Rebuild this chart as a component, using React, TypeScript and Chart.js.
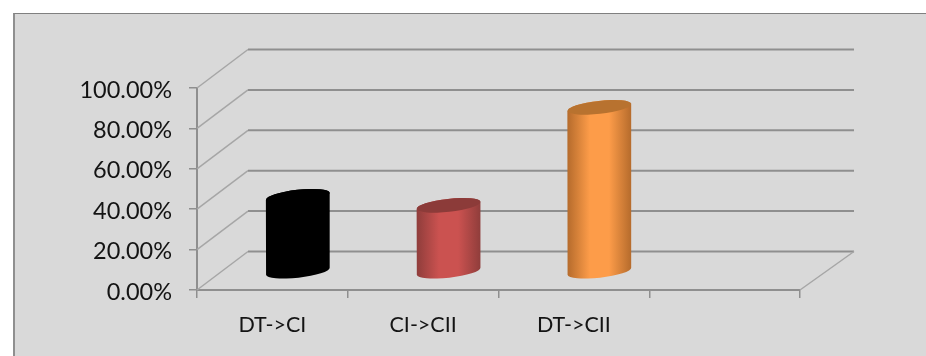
import React, { useEffect, useRef } from "react";
import { Chart, registerables } from "chart.js";

Chart.register(...registerables);

const categories = ["DT->CI", "CI->CII", "DT->CII", ""];
const values = [37.5, 33, 81.5, null];
const yTickStep = 20;
const yMax = 100;

// Per-bar shading: edge tone, centre tone, cap tone.
const edgeColors = ["#000000", "#8f3d3b", "#b56b2c"];
const centerColors = ["#000000", "#cb5250", "#fd9c49"];
const capColors = ["#000000", "#8c3b39", "#b8722f"];

const gridColor = "#8f8f8f";
const sideColor = "#a6a6a6";
const textColor = "#141414";
const fontFamily = "Lato, Carlito, sans-serif";

// Oblique projection of the floor and back wall relative to the front plane.
const wallDxLeft = 51;
const wallDxRight = 54;
const wallDy = -38.5;
const barDx = 25.5;
const barDy = -18;
const capRy = 6.5;
const capTilt = -0.11;

const wallPlugin = {
  id: "wall",
  beforeDatasetsDraw(chart: any) {
    const { ctx, scales } = chart;
    const { x, y } = scales;
    const left = x.left;
    const right = x.right;
    ctx.save();
    y.ticks.forEach((t: any) => {
      const py = y.getPixelForValue(t.value);
      ctx.strokeStyle = sideColor;
      ctx.lineWidth = 1.5;
      ctx.beginPath();
      ctx.moveTo(left, py);
      ctx.lineTo(left + wallDxLeft, py + wallDy);
      ctx.stroke();
      ctx.strokeStyle = gridColor;
      ctx.lineWidth = 2;
      ctx.beginPath();
      ctx.moveTo(left + wallDxLeft, py + wallDy);
      ctx.lineTo(right + wallDxRight, py + wallDy);
      ctx.stroke();
    });
    const floor = y.getPixelForValue(0);
    ctx.strokeStyle = sideColor;
    ctx.lineWidth = 1.5;
    ctx.beginPath();
    ctx.moveTo(right, floor);
    ctx.lineTo(right + wallDxRight, floor + wallDy);
    ctx.stroke();
    ctx.restore();
  },
};

// Replaces the flat bar with a tilted cylinder built from the bar element's own geometry.
const cylinderPlugin = {
  id: "cylinder",
  beforeDatasetDraw(chart: any, args: any) {
    const { ctx } = chart;
    const meta = args.meta;
    meta.data.forEach((bar: any, i: number) => {
      if (values[i] == null) return;
      const { x, y, base, width } = bar.getProps(["x", "y", "base", "width"], true);
      const cx = x + barDx;
      const top = y + barDy;
      const bottom = base + barDy;
      const rx = width / 2;
      const lean = Math.sin(capTilt) * rx;
      const grad = ctx.createLinearGradient(cx - rx, 0, cx + rx, 0);
      grad.addColorStop(0, edgeColors[i]);
      grad.addColorStop(0.35, centerColors[i]);
      grad.addColorStop(0.65, centerColors[i]);
      grad.addColorStop(1, edgeColors[i]);
      ctx.save();
      ctx.fillStyle = grad;
      ctx.beginPath();
      ctx.ellipse(cx, bottom, rx, capRy, capTilt, 0, Math.PI);
      ctx.lineTo(cx - rx, top - lean);
      ctx.ellipse(cx, top, rx, capRy, capTilt, Math.PI, 2 * Math.PI);
      ctx.closePath();
      ctx.fill();
      ctx.fillStyle = capColors[i];
      ctx.beginPath();
      ctx.ellipse(cx, top, rx, capRy, capTilt, 0, 2 * Math.PI);
      ctx.fill();
      ctx.restore();
    });
    return false;
  },
};

export default function App() {
  const ref = useRef<HTMLCanvasElement | null>(null);

  useEffect(() => {
    if (!ref.current) return;
    const chart = new Chart(ref.current, {
      type: "bar",
      data: {
        labels: categories,
        datasets: [{ data: values, barThickness: 64, backgroundColor: centerColors }],
      },
      plugins: [wallPlugin, cylinderPlugin],
      options: {
        animation: false,
        responsive: false,
        layout: { padding: { top: 88, right: 126, left: 0, bottom: 0 } },
        plugins: { legend: { display: false }, title: { display: false }, tooltip: { enabled: false } },
        scales: {
          x: {
            afterFit: (s: any) => { s.height = 66; },
            border: { color: gridColor, width: 2 },
            grid: { drawOnChartArea: false, color: gridColor, lineWidth: 1.5, tickLength: 8 },
            ticks: {
              color: textColor,
              font: { family: fontFamily, size: 21.5 },
              padding: 14,
              maxRotation: 0,
              autoSkip: false,
            },
          },
          y: {
            min: 0,
            max: yMax,
            afterFit: (s: any) => { s.width = 197; },
            border: { color: gridColor, width: 2 },
            grid: { drawOnChartArea: false, color: gridColor, lineWidth: 1.5, tickLength: 8 },
            ticks: {
              stepSize: yTickStep,
              color: textColor,
              font: { family: fontFamily, size: 23.5 },
              padding: 17,
              labelOffset: 2,
              callback: (v: any) => Number(v).toFixed(2) + "%",
            },
          },
        },
      } as any,
    });
    return () => chart.destroy();
  }, []);

  return (
    <div style={{ position: "absolute", left: 0, top: 0, width: 926, height: 356, background: "#fff", overflow: "hidden" }}>
      <div
        style={{
          position: "absolute",
          left: 13,
          top: 13,
          width: 913,
          height: 343,
          boxSizing: "border-box",
          background: "#d9d9d9",
          borderLeft: "2px solid #8f8f8f",
          borderTop: "1px solid #808080",
        }}
      />
      <canvas ref={ref} width={926} height={356} style={{ position: "absolute", left: 0, top: 0, display: "block" }} />
    </div>
  );
}
